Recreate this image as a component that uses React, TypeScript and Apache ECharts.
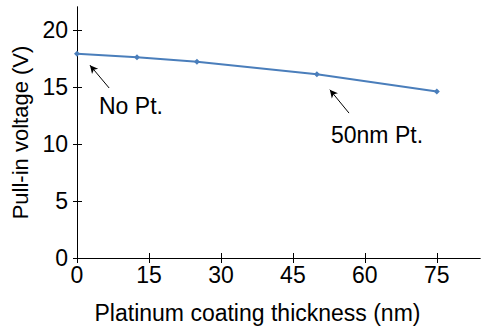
import React, { useEffect, useRef } from "react";
import * as echarts from "echarts";

const thickness = [0, 12.5, 25, 50, 75];
const voltage = [17.9, 17.6, 17.2, 16.1, 14.6];
const xTicks = [0, 15, 30, 45, 60, 75];
const yTicks = [0, 5, 10, 15, 20];
const arrowNoPt = [[6.7, 14.9], [2.7, 16.9]];
const arrow50 = [[56.7, 12.7], [52.7, 14.75]];

const FONT = "Liberation Sans";

export default function App() {
  const ref = useRef<HTMLDivElement>(null);
  useEffect(() => {
    const chart = echarts.init(ref.current!, null, { renderer: "svg" });
    const axisBase = {
      axisLine: { show: true, lineStyle: { color: "#000", width: 1 } },
      splitLine: { show: false },
    };
    chart.setOption({
      animation: false,
      backgroundColor: "#fff",
      grid: { left: 77, top: 7, right: 1, bottom: 71, containLabel: false },
      xAxis: [
        {
          ...axisBase,
          type: "value",
          min: 0,
          max: 84,
          interval: 15,
          name: "Platinum coating thickness (nm)",
          nameLocation: "middle",
          nameGap: 43,
          nameTextStyle: { fontFamily: FONT, fontSize: 23, color: "#000", padding: [0, 42, 0, 0] },
          axisTick: { show: true, length: 5, lineStyle: { color: "#000" }, customValues: xTicks },
          axisLabel: { fontFamily: FONT, fontSize: 23, color: "#000", margin: 5, customValues: xTicks },
        },
        {
          ...axisBase,
          type: "value",
          position: "bottom",
          min: 0,
          max: 84,
          interval: 15,
          axisTick: { show: true, inside: true, length: 5, lineStyle: { color: "#000" }, customValues: xTicks },
          axisLabel: { show: false },
        },
      ],
      yAxis: [
        {
          ...axisBase,
          type: "value",
          min: 0,
          max: 22,
          interval: 5,
          name: "Pull-in voltage (V)",
          nameLocation: "middle",
          nameGap: 44,
          nameTextStyle: { fontFamily: FONT, fontSize: 22, color: "#000" },
          axisTick: { show: true, length: 4, lineStyle: { color: "#000" }, customValues: yTicks },
          axisLabel: { fontFamily: FONT, fontSize: 23, color: "#000", margin: 9, customValues: yTicks },
        },
        {
          ...axisBase,
          type: "value",
          position: "left",
          min: 0,
          max: 22,
          interval: 5,
          axisTick: { show: true, inside: true, length: 5, lineStyle: { color: "#000" }, customValues: yTicks },
          axisLabel: { show: false },
        },
      ],
      series: [
        {
          type: "line",
          data: thickness.map((x, i) => [x, voltage[i]]),
          symbol: "diamond",
          symbolSize: 6,
          showSymbol: true,
          lineStyle: { color: "#4a7ebb", width: 2 },
          itemStyle: { color: "#4a7ebb" },
          markLine: {
            silent: true,
            symbol: ["none", "arrow"],
            symbolSize: [6, 8],
            label: { show: false },
            lineStyle: { color: "#000", width: 1, type: "solid" },
            data: [
              [{ coord: arrowNoPt[0] }, { coord: arrowNoPt[1] }],
              [{ coord: arrow50[0] }, { coord: arrow50[1] }],
            ],
          },
        },
      ],
      graphic: [
        {
          type: "text",
          left: 99,
          top: 94,
          style: { text: "No Pt.", font: `23px "${FONT}"`, fill: "#000" },
        },
        {
          type: "text",
          left: 331,
          top: 123,
          style: { text: "50nm Pt.", font: `23px "${FONT}"`, fill: "#000" },
        },
      ],
    });
    return () => chart.dispose();
  }, []);
  return <div ref={ref} style={{ width: 481, height: 329, position: "absolute", left: 0, top: 0 }} />;
}
